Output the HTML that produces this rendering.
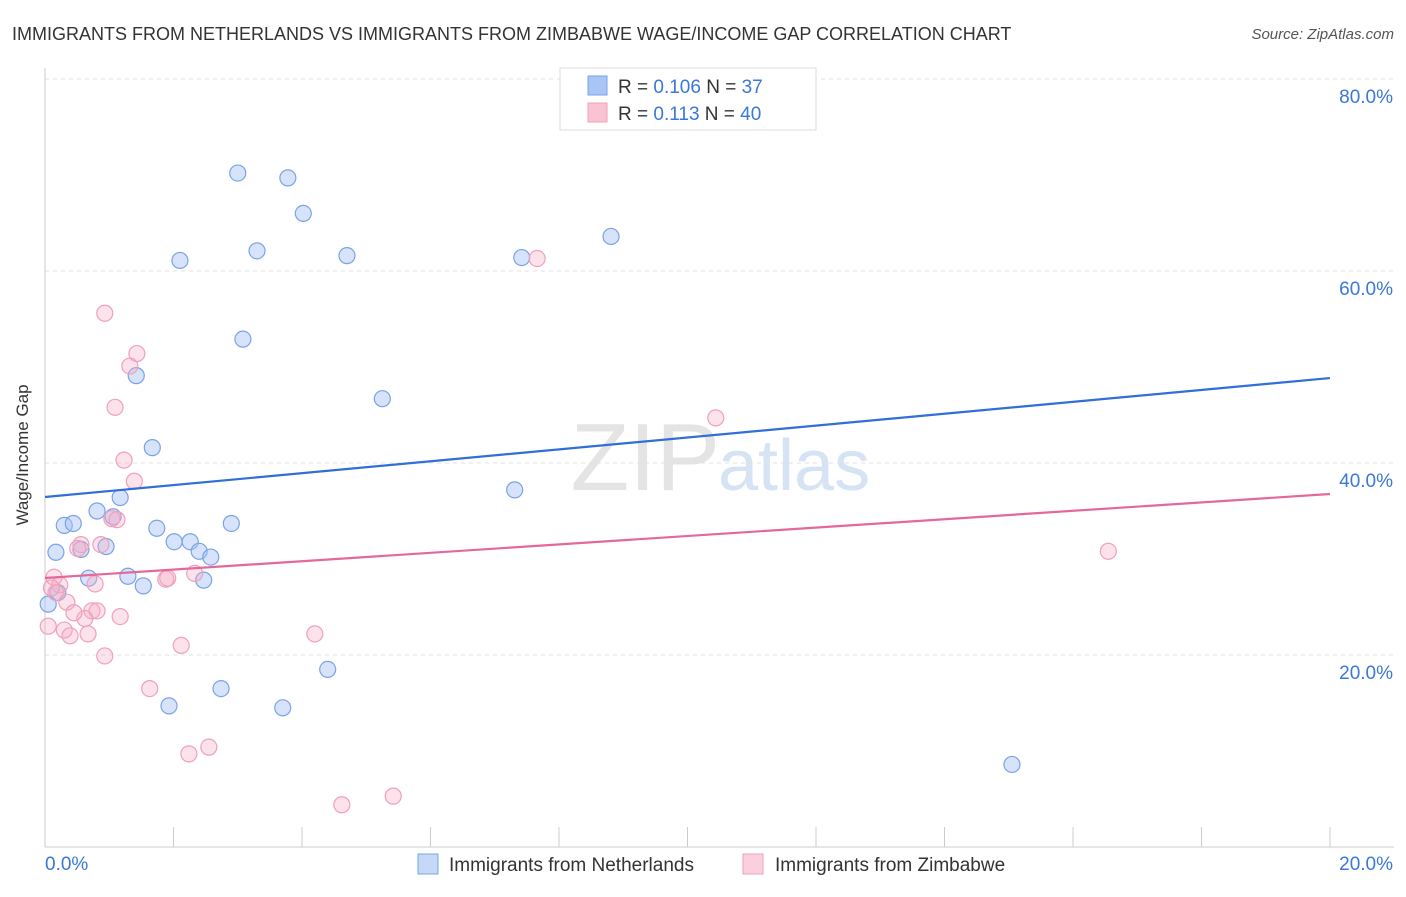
<!DOCTYPE html>
<html><head><meta charset="utf-8"><style>
body{margin:0;background:#fff;font-family:"Liberation Sans",sans-serif;}
svg text{font-family:"Liberation Sans",sans-serif;}
</style></head><body>
<svg id="chart" width="1406" height="892" xmlns="http://www.w3.org/2000/svg">
<text x="12" y="40" font-size="18" fill="#333">IMMIGRANTS FROM NETHERLANDS VS IMMIGRANTS FROM ZIMBABWE WAGE/INCOME GAP CORRELATION CHART</text>
<text x="1394" y="39" font-size="15" fill="#555" text-anchor="end" font-style="italic">Source: ZipAtlas.com</text>
<text x="720" y="490" font-size="96" fill="#e4e4e4" text-anchor="end" font-family="Liberation Serif">ZIP</text>
<text x="718" y="490" font-size="72" fill="#d6e3f5">atlas</text>
<g id="grid"></g>
<g id="axes"></g>
<g id="points"></g>
<g id="lines"></g>
<text x="28" y="455" font-size="17" fill="#333" text-anchor="middle" transform="rotate(-90 28 455)">Wage/Income Gap</text>
<g>
<rect x="560" y="68" width="256" height="62" fill="#fff" stroke="#ddd"/>
<rect x="588" y="76" width="19" height="19" fill="#a8c6f5" stroke="#7aa3e5"/>
<text x="618" y="93" font-size="19" fill="#333">R = <tspan fill="#3a78d8">0.106</tspan>   N = <tspan fill="#3a78d8"> 37</tspan></text>
<rect x="588" y="103" width="19" height="19" fill="#f9c3d4" stroke="#f0a0ba"/>
<text x="618" y="120" font-size="19" fill="#333">R = <tspan fill="#3a78d8"> 0.113</tspan>   N = <tspan fill="#3a78d8">40</tspan></text>
</g>
<g>
<rect x="418" y="854" width="20" height="20" fill="#c5d8f8" stroke="#7aa3e5"/>
<text x="449" y="871" font-size="19" fill="#333">Immigrants from Netherlands</text>
<rect x="743" y="854" width="20" height="20" fill="#fbd0de" stroke="#f0a0ba"/>
<text x="775" y="871" font-size="19" fill="#333">Immigrants from Zimbabwe</text>
</g>
</svg>
<script>
const yTicks=[20,40,60,80];
const yTickLabels=["20.0%","40.0%","60.0%","80.0%"];
const xTickLabels=["0.0%","20.0%"];
const blueX=[3.0,3.78,4.02,2.10,3.30,4.70,7.42,8.81,3.08,1.42,5.25,1.67,7.31,1.17,0.81,1.06,0.30,0.44,1.74,2.90,0.17,0.56,0.95,2.01,2.26,2.40,2.58,0.68,1.29,1.53,2.47,0.20,0.05,4.40,2.74,1.93,3.70,15.05];
const blueY=[70.2,69.7,66.0,61.1,62.1,61.6,61.4,63.6,52.9,49.1,46.7,41.6,37.2,36.4,35.0,34.4,33.5,33.7,33.2,33.7,30.7,31.0,31.3,31.8,31.8,30.8,30.2,28.0,28.2,27.2,27.8,26.5,25.3,18.5,16.5,14.7,14.5,8.6];
const pinkX=[0.93,1.43,1.32,1.09,1.23,1.39,10.44,7.66,16.55,1.04,1.12,0.56,0.51,0.87,0.14,0.23,0.78,1.88,1.91,2.33,0.17,0.34,0.73,0.81,0.62,1.17,0.45,0.30,0.39,0.67,0.05,0.93,4.20,2.12,1.63,2.24,2.55,4.62,5.42,0.1];
const pinkY=[55.6,51.4,50.1,45.8,40.3,38.1,44.7,61.3,30.8,34.2,34.1,31.5,31.1,31.5,28.1,27.3,27.4,27.9,28.0,28.5,26.5,25.5,24.6,24.6,23.8,24.0,24.4,22.6,22.0,22.2,23.0,19.9,22.2,21.0,16.5,9.7,10.4,4.4,5.3,27.0];
const blueTrend=[36.46,48.85];
const pinkTrend=[28.02,36.77];
const NS="http://www.w3.org/2000/svg";
const xs=v=>45+v*64.25, ys=v=>847-v*9.6;
function mk(tag,attrs,parent){const e=document.createElementNS(NS,tag);for(const k in attrs)e.setAttribute(k,attrs[k]);document.getElementById(parent).appendChild(e);return e;}
yTicks.forEach((t,i)=>{
 const g=mk('line',{x1:45,x2:1394,y1:ys(t),y2:ys(t),stroke:'#e2e2e2','stroke-dasharray':'4,4'},'grid');
 
 
 const l=mk('text',{x:1393,y:ys(t)+24,'font-size':19,fill:'#3a78d8','text-anchor':'end'},'axes');l.textContent=yTickLabels[i];
 
 
});
const ax=mk('line',{x1:45,x2:1394,y1:847,y2:847,stroke:'#ccc'},'axes');


const ay=mk('line',{x1:45,x2:45,y1:68,y2:847,stroke:'#ccc'},'axes');


for(let i=0;i<=10;i++){const t=mk('line',{x1:xs(i*2),x2:xs(i*2),y1:827,y2:847,stroke:'#ccc'},'axes');
 
 }
const xl0=mk('text',{x:45,y:870,'font-size':19,fill:'#3a78d8'},'axes');xl0.textContent=xTickLabels[0];


const xl1=mk('text',{x:1393,y:870,'font-size':19,fill:'#3a78d8','text-anchor':'end'},'axes');xl1.textContent=xTickLabels[1];


blueX.forEach((x,i)=>{const c=mk('circle',{cx:xs(x),cy:ys(blueY[i]),r:8,fill:'rgba(164,194,244,0.45)',stroke:'#7aa3e5','stroke-width':1.2},'points');
 
 });
pinkX.forEach((x,i)=>{const c=mk('circle',{cx:xs(x),cy:ys(pinkY[i]),r:8,fill:'rgba(246,172,198,0.35)',stroke:'#f0a0ba','stroke-width':1.2},'points');
 
 });
const bl=mk('line',{x1:xs(0),y1:ys(blueTrend[0]),x2:xs(20),y2:ys(blueTrend[1]),stroke:'#2f6fd6','stroke-width':2.2},'lines');


const pl=mk('line',{x1:xs(0),y1:ys(pinkTrend[0]),x2:xs(20),y2:ys(pinkTrend[1]),stroke:'#e5689a','stroke-width':2.2},'lines');


</script>
</body></html>
